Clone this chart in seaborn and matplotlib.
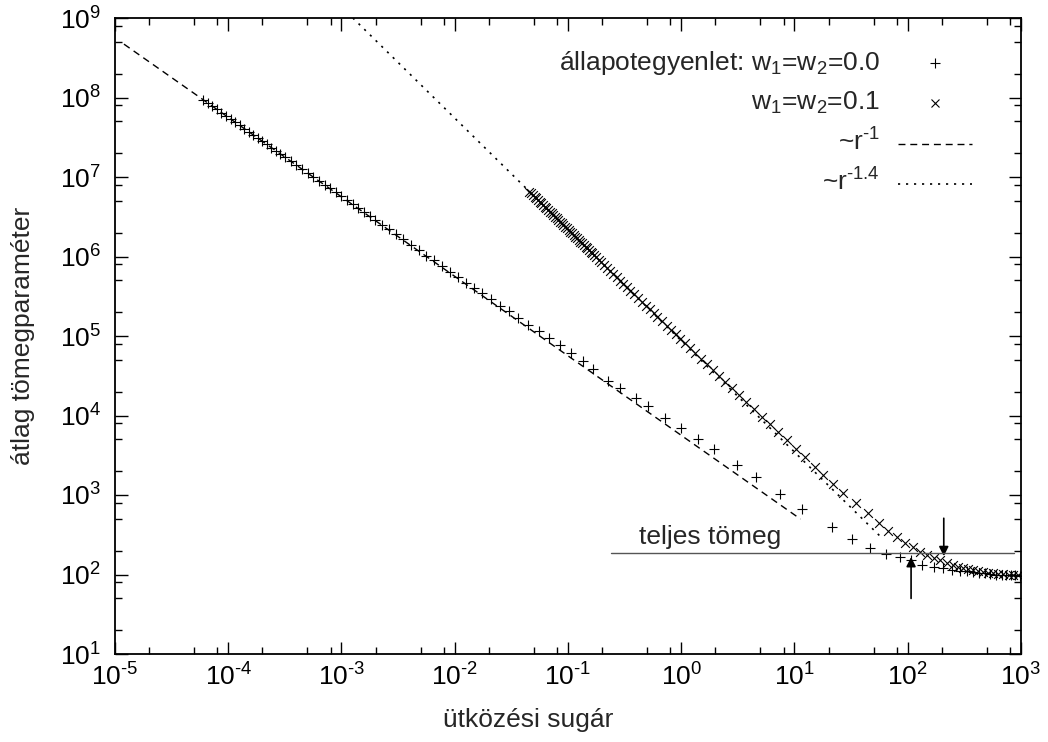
import numpy as np
import pandas as pd
import seaborn as sns
import matplotlib
matplotlib.use("Agg")
import matplotlib.pyplot as plt
from matplotlib.patches import FancyArrowPatch
from matplotlib.ticker import FixedLocator, FuncFormatter, NullFormatter

# ---------------------------------------------------------------------------
# Data (log10 of impact radius r and of mean mass parameter m)
# ---------------------------------------------------------------------------
# equation of state w1 = w2 = 0.0
plus_log_r = [
    -4.22, -4.18, -4.14, -4.10, -4.06, -4.02, -3.98, -3.94, -3.90, -3.86,
    -3.82, -3.78, -3.74, -3.70, -3.66, -3.62, -3.58, -3.54, -3.50, -3.45,
    -3.40, -3.35, -3.30, -3.25, -3.20, -3.15, -3.10, -3.05, -3.00, -2.95,
    -2.90, -2.85, -2.80, -2.75, -2.70, -2.64, -2.58, -2.52, -2.46, -2.39,
    -2.32, -2.25, -2.18, -2.11, -2.04, -1.97, -1.90, -1.83, -1.76, -1.68,
    -1.60, -1.52, -1.44, -1.35, -1.26, -1.17, -1.07, -0.97, -0.87, -0.78,
    -0.65, -0.54, -0.40, -0.29, -0.14, 0.00, 0.15, 0.29, 0.49, 0.66,
    0.87, 1.07, 1.33, 1.51, 1.67, 1.81, 1.93, 2.03, 2.13, 2.23,
    2.31, 2.39, 2.46, 2.52, 2.58, 2.63, 2.68, 2.73, 2.78, 2.83,
    2.87, 2.91, 2.95, 2.99,
]
plus_log_m = [
    7.97, 7.93, 7.89, 7.85, 7.81, 7.77, 7.73, 7.69, 7.65, 7.61,
    7.57, 7.53, 7.49, 7.45, 7.41, 7.37, 7.33, 7.29, 7.25, 7.20,
    7.15, 7.10, 7.05, 7.00, 6.95, 6.90, 6.86, 6.81, 6.76, 6.71,
    6.66, 6.61, 6.56, 6.51, 6.46, 6.40, 6.34, 6.28, 6.22, 6.15,
    6.08, 6.01, 5.95, 5.88, 5.81, 5.74, 5.67, 5.60, 5.54, 5.46,
    5.38, 5.31, 5.23, 5.14, 5.06, 4.98, 4.89, 4.79, 4.68, 4.58,
    4.44, 4.35, 4.22, 4.12, 3.97, 3.84, 3.70, 3.58, 3.38, 3.23,
    3.01, 2.82, 2.60, 2.45, 2.33, 2.26, 2.22, 2.18, 2.12, 2.09,
    2.08, 2.06, 2.05, 2.04, 2.03, 2.02, 2.015, 2.01, 2.00, 2.00,
    1.995, 1.99, 1.99, 1.985,
]

# equation of state w1 = w2 = 0.1
cross_log_r = [
    -1.340, -1.325, -1.310, -1.295, -1.280, -1.265, -1.250, -1.235, -1.220, -1.205,
    -1.190, -1.175, -1.160, -1.145, -1.130, -1.115, -1.100, -1.085, -1.070, -1.055,
    -1.040, -1.025, -1.010, -0.995, -0.980, -0.965, -0.950, -0.935, -0.920, -0.905,
    -0.890, -0.875, -0.860, -0.845, -0.830, -0.815, -0.800, -0.785, -0.770, -0.755,
    -0.730, -0.705, -0.680, -0.655, -0.630, -0.600, -0.570, -0.540, -0.510, -0.480,
    -0.450, -0.420, -0.385, -0.350, -0.315, -0.280, -0.245, -0.210, -0.170, -0.130,
    -0.090, -0.050, -0.010, 0.035, 0.080, 0.125, 0.175, 0.225, 0.280, 0.335,
    0.390, 0.450, 0.510, 0.575, 0.640, 0.710, 0.780, 0.855, 0.930, 1.010,
    1.090, 1.178, 1.249, 1.337, 1.425, 1.540, 1.646, 1.743, 1.823, 1.902,
    1.973, 2.043, 2.105, 2.167, 2.228, 2.281, 2.343, 2.396, 2.440, 2.485,
    2.530, 2.575, 2.620, 2.665, 2.710, 2.755, 2.800, 2.845, 2.890, 2.930,
    2.970,
]
cross_log_m = [
    6.816, 6.795, 6.774, 6.753, 6.732, 6.711, 6.690, 6.669, 6.648, 6.627,
    6.606, 6.585, 6.564, 6.543, 6.522, 6.501, 6.480, 6.459, 6.438, 6.417,
    6.396, 6.375, 6.354, 6.333, 6.312, 6.291, 6.270, 6.249, 6.228, 6.207,
    6.186, 6.165, 6.144, 6.123, 6.102, 6.081, 6.060, 6.039, 6.018, 5.997,
    5.962, 5.927, 5.892, 5.857, 5.822, 5.780, 5.738, 5.696, 5.654, 5.612,
    5.570, 5.528, 5.479, 5.430, 5.381, 5.337, 5.290, 5.240, 5.190, 5.130,
    5.080, 5.020, 4.965, 4.906, 4.843, 4.785, 4.715, 4.645, 4.573, 4.496,
    4.424, 4.340, 4.261, 4.170, 4.084, 3.986, 3.893, 3.793, 3.688, 3.581,
    3.474, 3.352, 3.252, 3.138, 3.025, 2.899, 2.774, 2.648, 2.547, 2.472,
    2.396, 2.346, 2.283, 2.245, 2.208, 2.182, 2.145, 2.119, 2.100, 2.085,
    2.070, 2.055, 2.045, 2.035, 2.025, 2.015, 2.010, 2.005, 2.000, 1.995,
    1.990,
]

# power-law guide lines (end points)
slope1_r = [1.2e-5, 11.3]
slope1_m = [4.69e8, 498.0]
slope14_r = [1.26e-3, 59.0]
slope14_m = [1.0e9, 289.0]

# total mass level and the two marked radii
total_mass = 186.0
total_mass_r = [0.24, 860.0]
arrow_up_r, arrow_up_m = 107.0, (50.0, 166.0)
arrow_down_r, arrow_down_m = 208.0, (510.0, 170.0)

# axis decades
x_decades = list(range(-5, 4))
y_decades = list(range(1, 10))

legend_labels = [
    r"állapotegyenlet: w$_1$=w$_2$=0.0",
    r"w$_1$=w$_2$=0.1",
    "~r$^{\u20101}$",
    "~r$^{\u20101.4}$",
]

# ---------------------------------------------------------------------------
sns.set_theme(style="ticks")
plt.rcParams["font.family"] = ["Liberation Sans", "DejaVu Sans"]
plt.rcParams["mathtext.fontset"] = "custom"
plt.rcParams["mathtext.rm"] = "Liberation Sans"
plt.rcParams["mathtext.it"] = "Liberation Sans:italic"
plt.rcParams["mathtext.default"] = "regular"
plt.rcParams["axes.unicode_minus"] = False

FS = 19


def pow10_label(v, pos):
    e = int(round(np.log10(v)))
    s = str(abs(e))
    if e < 0:
        s = "\u2010" + s
    return "10$^{" + s + "}$"


def minor_positions(decades):
    return [s * 10.0 ** d for d in decades[:-1] for s in (2, 5, 8)]


fig = plt.figure(figsize=(10.48, 7.42), dpi=100)
ax = fig.add_axes([115 / 1048, 1 - 654 / 742, 906 / 1048, 636 / 742])

plus_df = pd.DataFrame({"r": 10 ** np.array(plus_log_r), "m": 10 ** np.array(plus_log_m)})
cross_df = pd.DataFrame({"r": 10 ** np.array(cross_log_r), "m": 10 ** np.array(cross_log_m)})

sns.lineplot(x=slope1_r, y=slope1_m, ax=ax, color="black", lw=1.0,
             linestyle=(0, (5, 3.5)), estimator=None, sort=False)
sns.lineplot(x=slope14_r, y=slope14_m, ax=ax, color="black", lw=1.2,
             linestyle=(0, (1.3, 3.5)), estimator=None, sort=False)

sns.scatterplot(data=plus_df, x="r", y="m", ax=ax, marker="+", color="black",
                s=55, linewidth=0.8)
sns.scatterplot(data=cross_df, x="r", y="m", ax=ax, marker="x", color="black",
                s=40, linewidth=0.8)

ax.plot(total_mass_r, [total_mass, total_mass], color="#555555", lw=1.0)
for r0, (m_from, m_to) in ((arrow_up_r, arrow_up_m), (arrow_down_r, arrow_down_m)):
    ax.add_patch(FancyArrowPatch((r0, m_from), (r0, m_to), arrowstyle="-|>",
                                 mutation_scale=14, color="black", lw=1.2,
                                 shrinkA=0, shrinkB=0))
ax.text(1.8, 240, "teljes tömeg", fontsize=FS, ha="center", va="baseline")

ax.set_xscale("log")
ax.set_yscale("log")
ax.set_xlim(10.0 ** x_decades[0], 10.0 ** x_decades[-1])
ax.set_ylim(10.0 ** y_decades[0], 10.0 ** y_decades[-1])
ax.set_xlabel("ütközési sugár", fontsize=FS)
ax.set_ylabel("átlag tömegparaméter", fontsize=FS)
ax.xaxis.set_label_coords(0.456, -0.085)
ax.yaxis.set_label_coords(-0.088, 0.5)

for axis, dec in ((ax.xaxis, x_decades), (ax.yaxis, y_decades)):
    axis.set_major_locator(FixedLocator([10.0 ** d for d in dec]))
    axis.set_minor_locator(FixedLocator(minor_positions(dec)))
    axis.set_major_formatter(FuncFormatter(pow10_label))
    axis.set_minor_formatter(NullFormatter())
ax.tick_params(which="both", direction="in", top=True, right=True,
               width=1.0, labelsize=FS, colors="black")
ax.tick_params(which="major", length=9)
ax.tick_params(which="minor", length=5, labelbottom=False, labelleft=False,
               labeltop=False, labelright=False)
ax.tick_params(axis="x", which="major", pad=7)
ax.tick_params(axis="y", which="major", pad=10)
for sp in ax.spines.values():
    sp.set_visible(True)
    sp.set_linewidth(1.3)
    sp.set_color("black")

# key
tx, mx, lx0, lx1 = 0.844, 0.905, 0.864, 0.946
rows = [0.929, 0.867, 0.805, 0.742]
for lab, yy in zip(legend_labels, rows):
    ax.text(tx, yy, lab, transform=ax.transAxes, fontsize=FS, ha="right", va="center")
ax.plot([mx], [rows[0]], transform=ax.transAxes, marker="+", color="black",
        ms=7, mew=0.8, ls="none")
ax.plot([mx], [rows[1]], transform=ax.transAxes, marker="x", color="black",
        ms=6, mew=0.8, ls="none")
ax.plot([lx0, lx1], [rows[2] - 0.003] * 2, transform=ax.transAxes, color="black",
        lw=1.0, ls=(0, (5, 3.5)))
ax.plot([lx0, lx1], [rows[3] - 0.003] * 2, transform=ax.transAxes, color="black",
        lw=1.2, ls=(0, (1.3, 3.5)))

fig.savefig("out.png", dpi=100)
